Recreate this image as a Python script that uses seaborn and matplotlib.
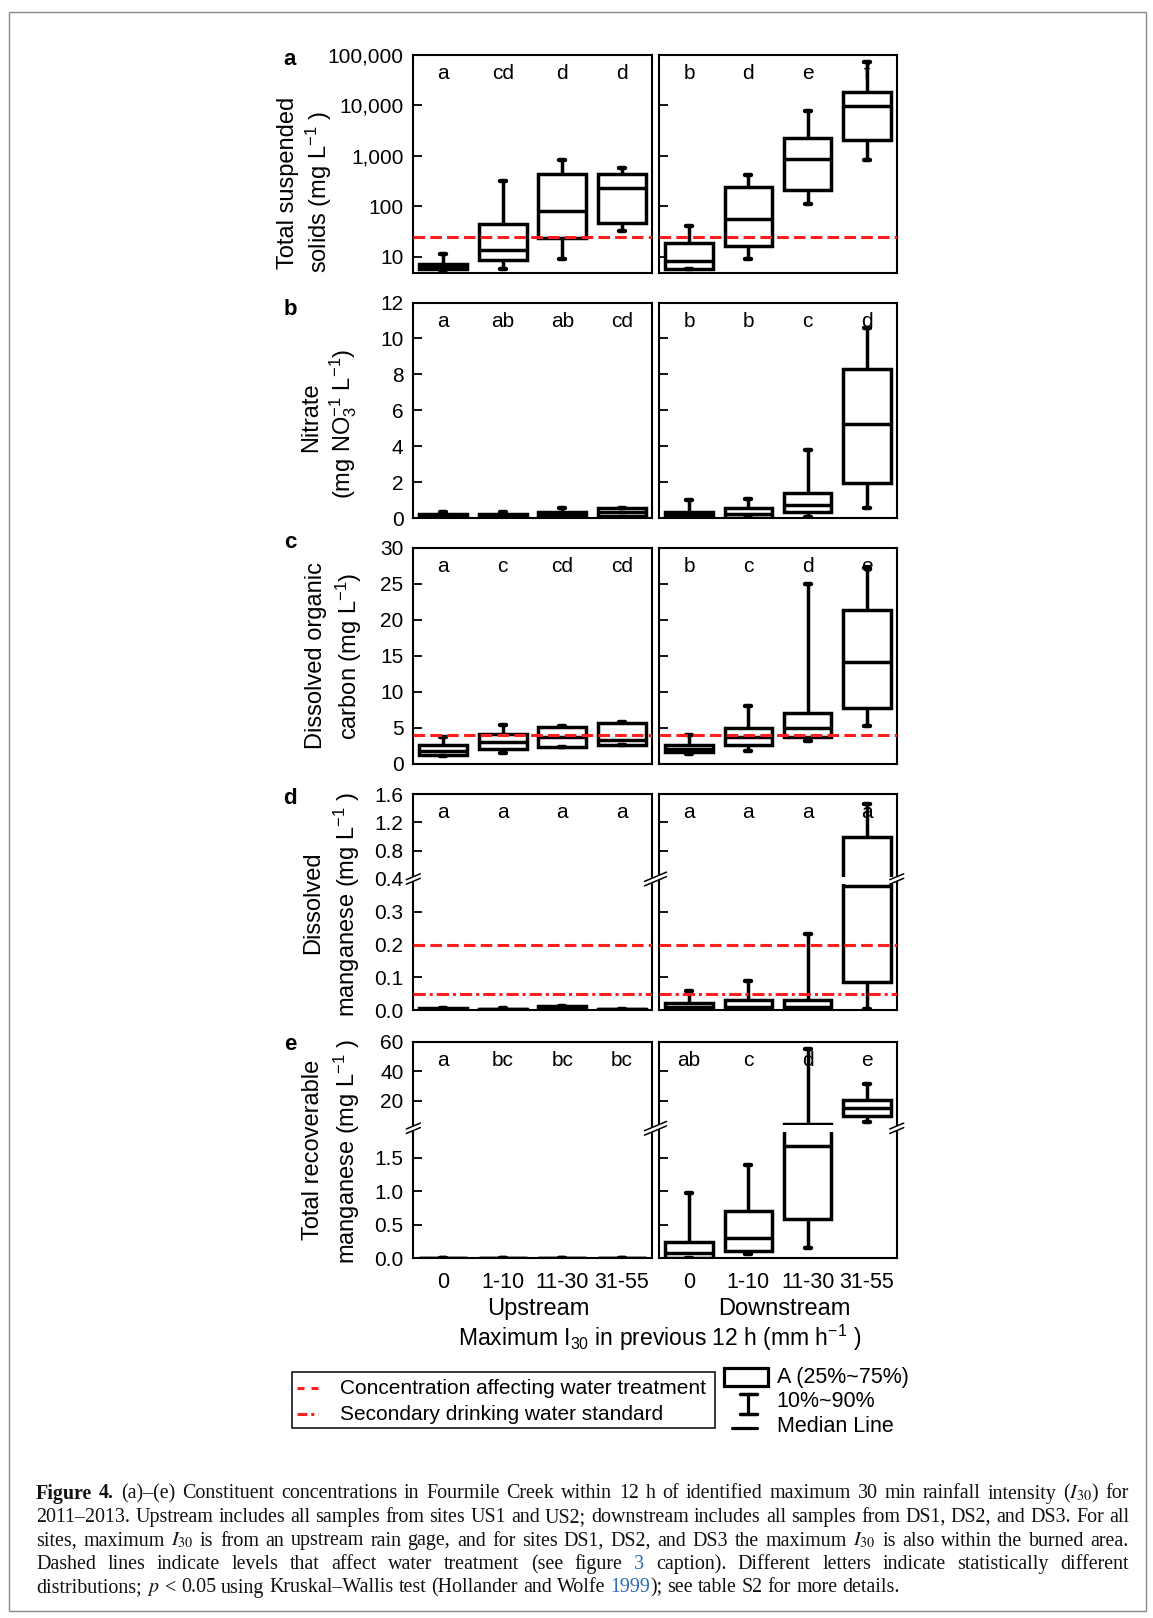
import re
import numpy as np
import pandas as pd
import matplotlib
matplotlib.use("Agg")
import matplotlib.pyplot as plt
import seaborn as sns
from matplotlib.lines import Line2D
from matplotlib.patches import Rectangle, Polygon
from matplotlib.ticker import FixedLocator, FixedFormatter, NullLocator
from matplotlib.transforms import blended_transform_factory

W, H = 1153, 1618

# ---------------- data ----------------
categories = ["0", "1-10", "11-30", "31-55"]
sites = ["Upstream", "Downstream"]

# each box: (10th pct, 25th pct, median, 75th pct, 90th pct)
tss_up = [(5.5, 5.8, 6.3, 7.1, 11.1), (5.75, 8.6, 13.6, 45, 316),
          (8.85, 23.3, 79, 430, 819), (33, 46, 233, 430, 585)]
tss_dn = [(5.8, 5.8, 8.3, 18.5, 41), (8.85, 16.6, 55.8, 244, 417),
          (111, 215, 885, 2291, 7586), (832, 2089, 9550, 18478, 71300)]

no3_up = [(0.03, 0.05, 0.15, 0.22, 0.36), (0.03, 0.05, 0.15, 0.22, 0.37),
          (0.03, 0.06, 0.20, 0.33, 0.55), (0.10, 0.13, 0.37, 0.55, 0.57)]
no3_dn = [(0.0, 0.02, 0.18, 0.37, 1.01), (0.02, 0.04, 0.24, 0.55, 1.07),
          (0.09, 0.33, 0.74, 1.38, 3.82), (0.55, 1.97, 5.26, 8.28, 10.6)]

doc_up = [(1.06, 1.25, 1.8, 2.55, 3.7), (1.43, 2.04, 3.0, 4.07, 5.4),
          (2.27, 2.36, 3.66, 5.1, 5.3), (2.55, 2.6, 3.3, 5.7, 5.75)]
doc_dn = [(1.4, 1.62, 2.1, 2.55, 4.0), (1.71, 2.64, 3.7, 5.0, 8.0),
          (3.15, 3.7, 5.0, 7.08, 25.0), (5.2, 7.78, 14.1, 21.3, 27.1)]

dmn_up = [(0.0, 0.001, 0.003, 0.006, 0.007), (0.0, 0.001, 0.002, 0.004, 0.005),
          (0.001, 0.003, 0.007, 0.011, 0.013), (0.0, 0.001, 0.002, 0.003, 0.004)]
dmn_dn = [(0.0, 0.003, 0.008, 0.02, 0.057), (0.0, 0.004, 0.01, 0.031, 0.088),
          (0.0, 0.004, 0.01, 0.031, 0.233), (0.003, 0.085, 0.38, 1.0, 1.46)]

tmn_up = [(0.0, 0.002, 0.004, 0.008, 0.010), (0.0, 0.002, 0.004, 0.007, 0.009),
          (0.0, 0.002, 0.005, 0.009, 0.011), (0.0, 0.002, 0.004, 0.007, 0.009)]
tmn_dn = [(0.0, 0.01, 0.085, 0.25, 0.98), (0.064, 0.11, 0.30, 0.71, 1.39),
          (0.16, 0.58, 1.68, 4.1, 55.0), (5.7, 9.8, 15.4, 20.5, 31.4)]

letters_a = (["a", "cd", "d", "d"], ["b", "d", "e", "f"])
letters_b = (["a", "ab", "ab", "cd"], ["b", "b", "c", "d"])
letters_c = (["a", "c", "cd", "cd"], ["b", "c", "d", "e"])
letters_d = (["a", "a", "a", "a"], ["a", "a", "a", "a"])
letters_e = (["a", "bc", "bc", "bc"], ["ab", "c", "d", "e"])

tss_treatment = 25
doc_treatment = 4
mn_treatment = 0.2
mn_secondary = 0.05

tss_ticks = [10, 100, 1000, 10000, 100000]
tss_ticklabels = ["10", "100", "1,000", "10,000", "100,000"]
no3_ticks = [0, 2, 4, 6, 8, 10, 12]
doc_ticks = [0, 5, 10, 15, 20, 25, 30]
dmn_top_ticks = [0.4, 0.8, 1.2, 1.6]
dmn_bot_ticks = [0.0, 0.1, 0.2, 0.3]
tmn_top_ticks = [20, 40, 60]
tmn_bot_ticks = [0.0, 0.5, 1.0, 1.5]

# ---------------- style ----------------
sns.set_style("white")
plt.rcParams["font.family"] = ["Liberation Sans", "DejaVu Sans"]
plt.rcParams["mathtext.fontset"] = "custom"
plt.rcParams["mathtext.rm"] = "Liberation Sans"
plt.rcParams["mathtext.it"] = "Liberation Sans:italic"
plt.rcParams["mathtext.bf"] = "Liberation Sans:bold"
for k in ["text.color", "axes.labelcolor", "xtick.color", "ytick.color", "axes.edgecolor"]:
    plt.rcParams[k] = "black"

TICK_FS = 15
LAB_FS = 17
LET_FS = 15
RED = "#ff1e1e"
DASH = (0, (3.8, 1.7))
DASHDOT = (0, (4.0, 1.3, 1.0, 1.3))
BOX_LW = 2.5

fig = plt.figure(figsize=(W / 100, H / 100), dpi=100)
ov = fig.add_axes([0, 0, 1, 1], zorder=20)
ov.set_xlim(0, W)
ov.set_ylim(H, 0)
ov.axis("off")
ov.patch.set_alpha(0)


def frac(x0, y0, x1, y1):
    return [x0 / W, 1 - y1 / H, (x1 - x0) / W, (y1 - y0) / H]


COLS = [(413.3, 651.7), (659.3, 896.7)]


def to_frame(stats):
    rows = []
    for cat, five in zip(categories, stats):
        for v in five:
            rows.append({"cat": cat, "value": v})
    return pd.DataFrame(rows)


def draw_boxes(ax, stats):
    df = to_frame(stats)
    sns.boxplot(data=df, x="cat", y="value", order=categories, ax=ax,
                whis=(0, 100), width=0.8, color="white", saturation=1,
                linecolor="black", linewidth=BOX_LW, showfliers=False,
                capwidths=[0.1] * 4,
                capprops={"solid_capstyle": "round", "linewidth": 3.2},
                whiskerprops={"linewidth": BOX_LW},
                medianprops={"linewidth": BOX_LW})


def style(ax, ylim, ticks, labels, show_labels, hide_top=False, hide_bottom=False):
    ax.set_ylim(*ylim)
    ax.set_xlim(-0.5, 3.5)
    ax.yaxis.set_major_locator(FixedLocator(ticks))
    ax.yaxis.set_major_formatter(FixedFormatter(labels))
    ax.yaxis.set_minor_locator(NullLocator())
    ax.tick_params(axis="y", which="both", direction="in", length=6.5, width=1.3,
                   pad=7, labelsize=TICK_FS, left=True, right=False,
                   labelleft=show_labels)
    ax.tick_params(axis="x", which="both", length=0, labelbottom=False)
    for sp in ax.spines.values():
        sp.set_linewidth(1.5)
        sp.set_color("black")
    if hide_top:
        ax.spines["top"].set_visible(False)
    if hide_bottom:
        ax.spines["bottom"].set_visible(False)
    ax.set_xlabel("")
    ax.set_ylabel("")
    ax.set_facecolor("white")


def add_letters(ax, letters, top_px):
    tr = blended_transform_factory(ax.transData, ov.transData)
    for i, l in enumerate(letters):
        ov.text(i, top_px + 18.5, l, transform=tr, ha="center", va="center",
                fontsize=LET_FS)


def fmt1(ticks):
    return [f"{t:.1f}" for t in ticks]


def fmt0(ticks):
    return [f"{t:g}" for t in ticks]


# ---------------- panel a ----------------
for c, data in enumerate([tss_up, tss_dn]):
    ax = fig.add_axes(frac(COLS[c][0], 55, COLS[c][1], 273.3))
    ax.set_yscale("log")
    draw_boxes(ax, data)
    style(ax, (4.7, 1e5), tss_ticks, tss_ticklabels, c == 0)
    ax.axhline(tss_treatment, color=RED, lw=2.2, ls=DASH, zorder=6)
    add_letters(ax, letters_a[c], 55)

# ---------------- panel b ----------------
for c, data in enumerate([no3_up, no3_dn]):
    ax = fig.add_axes(frac(COLS[c][0], 302.5, COLS[c][1], 518.3))
    draw_boxes(ax, data)
    style(ax, (0, 12), no3_ticks, fmt0(no3_ticks), c == 0)
    add_letters(ax, letters_b[c], 302.5)

# ---------------- panel c ----------------
for c, data in enumerate([doc_up, doc_dn]):
    ax = fig.add_axes(frac(COLS[c][0], 547.5, COLS[c][1], 763.7))
    draw_boxes(ax, data)
    style(ax, (0, 30), doc_ticks, fmt0(doc_ticks), c == 0)
    ax.axhline(doc_treatment, color=RED, lw=2.2, ls=DASH, zorder=6)
    add_letters(ax, letters_c[c], 547.5)

# ---------------- panel d (broken axis) ----------------
for c, data in enumerate([dmn_up, dmn_dn]):
    axt = fig.add_axes(frac(COLS[c][0], 794, COLS[c][1], 879))
    draw_boxes(axt, data)
    style(axt, (0.4, 1.6), dmn_top_ticks, fmt1(dmn_top_ticks), c == 0, hide_bottom=True)
    axb = fig.add_axes(frac(COLS[c][0], 879, COLS[c][1], 1010))
    draw_boxes(axb, data)
    style(axb, (0, 0.4), dmn_bot_ticks, fmt1(dmn_bot_ticks), c == 0, hide_top=True)
    axb.axhline(mn_treatment, color=RED, lw=2.2, ls=DASH, zorder=6)
    axb.axhline(mn_secondary, color=RED, lw=2.2, ls=DASHDOT, zorder=6)
    add_letters(axt, letters_d[c], 794)

# ---------------- panel e (broken axis) ----------------
for c, data in enumerate([tmn_up, tmn_dn]):
    axt = fig.add_axes(frac(COLS[c][0], 1041.5, COLS[c][1], 1128.3))
    draw_boxes(axt, data)
    style(axt, (1.5, 60), tmn_top_ticks, fmt0(tmn_top_ticks), c == 0, hide_bottom=True)
    axb = fig.add_axes(frac(COLS[c][0], 1128.3, COLS[c][1], 1258.3))
    draw_boxes(axb, data)
    style(axb, (0, 1.94), tmn_bot_ticks, fmt1(tmn_bot_ticks), c == 0, hide_top=True)
    axb.set_xticks(range(len(categories)))
    axb.set_xticklabels(categories)
    axb.tick_params(axis="x", labelbottom=True, labelsize=15.5, pad=10)
    add_letters(axt, letters_e[c], 1041.5)

# ---------------- break marks ----------------
def gap_band(y0, y1):
    for x0, x1 in [(414.8, 650.2), (660.8, 895.2)]:
        ov.add_patch(Rectangle((x0, y0), x1 - x0, y1 - y0, color="white", lw=0, zorder=3))


def brk(xc, yc, hw, slope=0.42, sep=4.5):
    dy = hw * slope
    pts_hi = [(xc - hw, yc + dy - sep / 2), (xc + hw, yc - dy - sep / 2)]
    pts_lo = [(xc - hw, yc + dy + sep / 2), (xc + hw, yc - dy + sep / 2)]
    ov.add_patch(Polygon([pts_hi[0], pts_hi[1], pts_lo[1], pts_lo[0]],
                         closed=True, color="white", lw=0, zorder=4))
    for p in (pts_hi, pts_lo):
        ov.add_line(Line2D([p[0][0], p[1][0]], [p[0][1], p[1][1]], color="black",
                           lw=1.1, zorder=5))


gap_band(877.2, 883.8)
gap_band(1125.3, 1131.5)
for yb in (879, 1128.3):
    brk(413.3, yb, 7)
    brk(655.5, yb, 11)
    brk(896.7, yb, 7)

# ---------------- panel tags and y labels ----------------
for tag, y in zip("abcde", [59, 309, 542, 798, 1044]):
    ov.text(290, y, tag, fontsize=16, fontweight="bold", ha="center", va="center")

ylabels = [
    ("Total suspended", 288, 182.5), ("solids (mg L$^{-1}$ )", 319, 191.5),
    ("Nitrate", 311, 417), ("(mg NO$_3^{-1}$ L$^{-1}$)", 343, 424),
    ("Dissolved organic", 316, 655), ("carbon (mg L$^{-1}$)", 349, 656),
    ("Dissolved", 313, 902.5), ("manganese (mg L$^{-1}$ )", 347, 904),
    ("Total recoverable", 313, 1150), ("manganese (mg L$^{-1}$ )", 347, 1151),
]
for txt, x, y in ylabels:
    ov.text(x, y, txt, rotation=90, ha="center", va="center", fontsize=LAB_FS)

# ---------------- x labels ----------------
ov.text(538, 1309, sites[0], ha="center", va="center", fontsize=LAB_FS)
ov.text(784.5, 1309, sites[1], ha="center", va="center", fontsize=LAB_FS)
ov.text(660, 1338, "Maximum I$_{30}$ in previous 12 h (mm h$^{-1}$ )",
        ha="center", va="center", fontsize=16.5)

# ---------------- legends ----------------
ov.add_patch(Rectangle((292.3, 1371.7), 422.7, 56.3, fill=False, ec="black", lw=1.1))
ov.add_line(Line2D([297, 318], [1388, 1388], color=RED, lw=2.2, ls=(0, (2.3, 2.3))))
ov.add_line(Line2D([297, 318], [1414, 1414], color=RED, lw=2.2, ls=(0, (3.2, 1.3, 1.0, 1.3))))
ov.text(340, 1388, "Concentration affecting water treatment", ha="left", va="center",
        fontsize=15)
ov.text(340, 1414, "Secondary drinking water standard", ha="left", va="center",
        fontsize=15)

ov.add_patch(Rectangle((724.3, 1368.3), 44, 17.7, fill=False, ec="black", lw=2.3))
ov.add_line(Line2D([748.3, 748.3], [1394.3, 1414.3], color="black", lw=2.3))
ov.add_line(Line2D([739.5, 757], [1394.3, 1394.3], color="black", lw=2.5))
ov.add_line(Line2D([739.5, 757], [1414.3, 1414.3], color="black", lw=2.5))
ov.add_line(Line2D([731.7, 757.3], [1428.3, 1428.3], color="black", lw=2.3))
ov.text(776.7, 1377, "A (25%~75%)", ha="left", va="center", fontsize=15.5)
ov.text(776.7, 1401.7, "10%~90%", ha="left", va="center", fontsize=15.5)
ov.text(776.7, 1426.7, "Median Line", ha="left", va="center", fontsize=15.5)

# ---------------- outer border ----------------
ov.add_patch(Rectangle((8.5, 12.2), 1137, 1598.5, fill=False, ec="#8c8c8c", lw=1.0))

# ---------------- caption ----------------
cap_lines = [
    "**Figure** **4.** (a)–(e) Constituent concentrations in Fourmile Creek within 12 h of identified maximum 30 min rainfall intensity ($I_{30}$) for",
    "2011–2013. Upstream includes all samples from sites US1 and US2; downstream includes all samples from DS1, DS2, and DS3. For all",
    "sites, maximum $I_{30}$ is from an upstream rain gage, and for sites DS1, DS2, and DS3 the maximum $I_{30}$ is also within the burned area.",
    "Dashed lines indicate levels that affect water treatment (see figure ^^3^^ caption). Different letters indicate statistically different",
    "distributions; $p$ < 0.05 using Kruskal–Wallis test (Hollander and Wolfe ^^1999^^); see table S2 for more details.",
]
cap_base = [1498.5, 1522, 1545.5, 1569, 1592.5]
CAP_X0, CAP_X1 = 36, 1129


def parse_words(line):
    words = []
    for w in line.split(" "):
        if w.startswith("**") and w.endswith("**"):
            words.append([(w[2:-2], "bold")])
        else:
            parts = re.split(r"\^\^(.*?)\^\^", w)
            pieces = []
            for i, p in enumerate(parts):
                if p:
                    pieces.append((p, "blue" if i % 2 else "normal"))
            words.append(pieces)
    return words


def piece_kw(stl, fs):
    kw = dict(fontsize=fs, family=["Liberation Serif", "DejaVu Serif"],
              math_fontfamily="stix", color="#111111", ha="left", va="baseline")
    if stl == "bold":
        kw["fontweight"] = "bold"
    if stl == "blue":
        kw["color"] = "#2a6cb6"
    return kw


renderer = fig.canvas.get_renderer()


def measure(text, stl, fs):
    t = ov.text(0, 0, text, **piece_kw(stl, fs))
    w = t.get_window_extent(renderer).width
    t.remove()
    return w


parsed = [parse_words(l) for l in cap_lines]
fs0 = 14.0
space0 = measure("a a", "normal", fs0) - measure("aa", "normal", fs0)
nat = []
for words in parsed[:4]:
    tot = sum(measure(p, s, fs0) for w in words for p, s in w)
    nat.append(tot + space0 * (len(words) - 1))
fs = min(15.5, fs0 * (CAP_X1 - CAP_X0) / max(nat))
space = measure("a a", "normal", fs) - measure("aa", "normal", fs)

for li, words in enumerate(parsed):
    widths = [[measure(p, s, fs) for p, s in w] for w in words]
    total = sum(sum(w) for w in widths)
    if li < 4:
        gap = (CAP_X1 - CAP_X0 - total) / (len(words) - 1)
    else:
        gap = space
    x = CAP_X0
    for w, ws in zip(words, widths):
        for (p, s), pw in zip(w, ws):
            ov.text(x, cap_base[li], p, **piece_kw(s, fs))
            x += pw
        x += gap

fig.savefig("out.png", dpi=100)
